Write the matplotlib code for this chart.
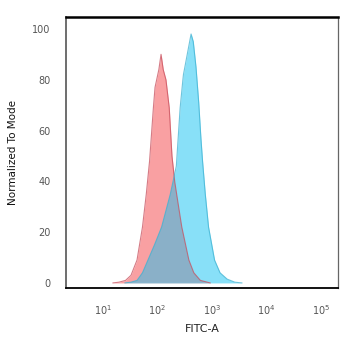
import numpy as np
import matplotlib
matplotlib.use("Agg")
import matplotlib.pyplot as plt
from matplotlib.patches import Polygon

# histogram outlines (x in log10 of FITC-A, y in % of mode)
red_log = [1.19, 1.30, 1.42, 1.52, 1.63, 1.73, 1.80, 1.86, 1.90, 1.93, 1.96, 1.99,
           2.03, 2.07, 2.11, 2.16, 2.22, 2.27, 2.32, 2.37, 2.45, 2.58, 2.67, 2.79, 2.97]
red_val = [0, 0.3, 1, 3, 9, 22, 35, 48, 60, 69, 77, 80,
           84, 90, 84, 80, 69, 50, 40, 33, 22, 9, 4, 1, 0]

cyan_log = [1.41, 1.52, 1.63, 1.73, 1.83, 1.95, 2.08, 2.24, 2.35, 2.42, 2.47, 2.48, 2.55,
            2.62, 2.66, 2.71, 2.76, 2.80, 2.83, 2.88, 2.94, 3.05, 3.15, 3.28, 3.42, 3.55]
cyan_val = [0, 0.3, 1, 4, 9, 15, 22, 35, 46, 69, 80, 82, 90,
            98, 95, 85, 71, 57, 48, 35, 22, 9, 4, 1.5, 0.3, 0]

yticks = [0, 20, 40, 60, 80, 100]
xticks = [1e1, 1e2, 1e3, 1e4, 1e5]

red_x = 10 ** np.array(red_log)
cyan_x = 10 ** np.array(cyan_log)

fig = plt.figure(figsize=(3.5, 3.39), dpi=100)
ax = fig.add_axes([0.1886, 0.1504, 0.7771, 0.7995])
ax.set_xscale("log")

ax.fill_between(red_x, red_val, 0, color="#f9a0a2", lw=0, zorder=2)
ax.fill_between(cyan_x, cyan_val, 0, color="#88e0f8", lw=0, zorder=2)

# overlap region: cyan shape clipped by the red shape
red_poly = Polygon(np.column_stack([red_x, red_val]), closed=True,
                   transform=ax.transData, facecolor="none", edgecolor="none")
ax.add_patch(red_poly)
over = Polygon(np.column_stack([cyan_x, cyan_val]), closed=True,
               facecolor="#8ab0c8", edgecolor="none", zorder=3)
ax.add_patch(over)
over.set_clip_path(red_poly)

ax.plot(red_x, red_val, color="#c8505e", lw=0.8, alpha=0.75, zorder=4)
ax.plot(cyan_x, cyan_val, color="#3fb2d2", lw=0.8, alpha=0.75, zorder=4)

ax.set_xlim(10 ** 0.33, 10 ** 5.31)
ax.set_ylim(-2, 104.7)
ax.set_yticks(yticks)
ax.set_xticks(xticks)
ax.minorticks_off()
ax.tick_params(length=0, labelsize=7, labelcolor="#555555", pad=11)

ax.set_xlabel("FITC-A", fontsize=8, color="#222222", labelpad=5)
ax.set_ylabel("Normalized To Mode", fontsize=7.5, color="#111111", labelpad=10)

ax.spines["top"].set_linewidth(1.8)
ax.spines["top"].set_color("black")
ax.spines["bottom"].set_linewidth(1.3)
ax.spines["bottom"].set_color("black")
ax.spines["left"].set_linewidth(1.2)
ax.spines["left"].set_color("#555555")
ax.spines["right"].set_linewidth(0.9)
ax.spines["right"].set_color("#666666")

fig.savefig("out.png", dpi=100)
